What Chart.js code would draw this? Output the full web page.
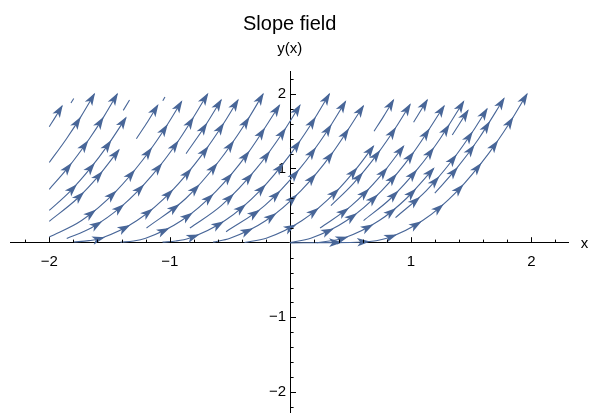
<!DOCTYPE html>
<html>
<head>
<meta charset="utf-8">
<script src="https://cdn.jsdelivr.net/npm/chart.js@4.4.1/dist/chart.umd.min.js"></script>
<style>
  html, body { margin: 0; padding: 0; background: #ffffff; }
  #wrap { width: 589px; height: 413px; }
</style>
</head>
<body>
<div id="wrap"><canvas id="c" width="589" height="413"></canvas></div>
<script>
// ---- data ----
const chartTitle = 'Slope field';
const yAxisLabel = 'y(x)';
const xAxisLabel = 'x';
const xMajorTicks = [-2, -1, 0, 1, 2];
const yMajorTicks = [-2, -1, 0, 1, 2];
const xMinorTicks = [-2.2, -2.0, -1.8, -1.6, -1.4, -1.2, -1.0, -0.8, -0.6, -0.4, -0.2,
                     0.2, 0.4, 0.6, 0.8, 1.0, 1.2, 1.4, 1.6, 1.8, 2.0, 2.2];
const yMinorTicks = [-2.2, -2.0, -1.8, -1.6, -1.4, -1.2, -1.0, -0.8, -0.6, -0.4, -0.2,
                     0.2, 0.4, 0.6, 0.8, 1.0, 1.2, 1.4, 1.6, 1.8, 2.0, 2.2];

// stream lines, each a list of [x, y] points
const streamlines = [
  [[-2.0,1.56],[-1.946,1.7],[-1.894,1.84]],
  [[-1.82,1.88],[-1.797,1.94]],
  [[-2.0,1.08],[-1.857,1.4],[-1.736,1.7],[-1.626,2.0]],
  [[-2.0,0.72],[-1.85,1.0],[-1.667,1.4],[-1.546,1.7],[-1.436,2.0]],
  [[-1.386,1.78],[-1.334,1.92]],
  [[-2.0,0.436],[-1.823,0.7],[-1.66,1.0],[-1.52,1.3],[-1.364,1.68]],
  [[-2.0,0.29],[-1.765,0.6],[-1.591,0.9],[-1.422,1.25]],
  [[-1.277,1.4],[-1.195,1.6],[-1.10,1.85]],
  [[-1.058,1.91],[-1.04,1.96]],
  [[-2.0,0.078],[-1.732,0.3],[-1.443,0.7],[-1.231,1.1],[-1.055,1.5],[-0.902,1.9]],
  [[-1.855,0.06],[-1.653,0.2],[-1.393,0.5],[-1.151,0.9],[-0.917,1.4],[-0.686,2.0]],
  [[-0.865,1.2],[-0.715,1.55],[-0.574,1.92]],
  [[-1.80,0.012],[-1.67,0.03],[-1.57,0.0625],[-1.272,0.3],[-0.983,0.7],[-0.725,1.2],[-0.555,1.6],[-0.434,1.92]],
  [[-1.193,0.2],[-0.865,0.6],[-0.591,1.1],[-0.375,1.6],[-0.226,2.0]],
  [[-1.41,0.01],[-1.3,0.025],[-1.2,0.0625],[-0.902,0.3],[-0.613,0.7],[-0.355,1.2],[-0.09,1.85]],
  [[-0.833,0.2],[-0.573,0.5],[-0.28,1.0],[-0.055,1.5],[0.08,1.85]],
  [[-1.06,0.01],[-0.95,0.025],[-0.84,0.0625],[-0.542,0.3],[-0.253,0.7],[0.005,1.2],[0.175,1.6],[0.324,2.0]],
  [[-0.533,0.15],[-0.213,0.5],[0.08,1.0],[0.305,1.5],[0.458,1.9]],
  [[-0.64,0.01],[-0.5,0.0625],[-0.202,0.3],[0.087,0.7],[0.345,1.2],[0.606,1.84]],
  [[-0.38,0.006],[-0.2,0.0625],[0.098,0.3],[0.387,0.7],[0.55,1.0],[0.69,1.3]],
  [[0.695,1.5],[0.774,1.7],[0.856,1.92]],
  [[0.337,0.5],[0.524,0.8],[0.725,1.2],[0.875,1.55],[0.994,1.86]],
  [[0.247,0.2],[0.507,0.5],[0.749,0.9],[0.94,1.3]],
  [[1.023,1.62],[1.136,1.92]],
  [[0.0,0.005],[0.17,0.0625],[0.468,0.3],[0.757,0.7],[1.015,1.2],[1.276,1.84]],
  [[0.608,0.3],[0.835,0.6],[1.06,1.0],[1.243,1.4],[1.438,1.9]],
  [[0.22,0.002],[0.44,0.0625],[0.738,0.3],[0.965,0.6],[1.19,1.0]],
  [[1.344,1.45],[1.474,1.78]],
  [[0.873,0.34],[1.127,0.7],[1.339,1.1],[1.515,1.5],[1.632,1.8]],
  [[1.199,0.67],[1.38,1.0],[1.563,1.4],[1.773,1.94]],
  [[0.0,0.0],[0.3,0.003],[0.6,0.012],[0.8,0.0625],[1.098,0.3],[1.387,0.7],[1.645,1.2],[1.815,1.6],[1.964,2.0]]
];

// ---- styling ----
const STREAM_COLOR = 'rgb(72,102,152)';
const FONT = "'Liberation Sans', Arial, sans-serif";

const datasets = streamlines.map((pts) => ({
  data: pts.map(([x, y]) => ({ x, y })),
  borderColor: STREAM_COLOR,
  borderWidth: 1.1,
  pointRadius: 0,
  pointHoverRadius: 0,
  fill: false,
  cubicInterpolationMode: 'monotone',
  showLine: true
}));

function drawArrowHead(ctx, x, y, ang) {
  ctx.save();
  ctx.translate(x, y);
  ctx.rotate(ang);
  ctx.beginPath();
  ctx.moveTo(6.5, 0);
  ctx.lineTo(-6.5, -4.3);
  ctx.lineTo(-3.2, 0);
  ctx.lineTo(-6.5, 4.3);
  ctx.closePath();
  ctx.fill();
  ctx.restore();
}

function bez(p0, c1, c2, p1, t) {
  const u = 1 - t;
  return {
    x: u*u*u*p0.x + 3*u*u*t*c1.x + 3*u*t*t*c2.x + t*t*t*p1.x,
    y: u*u*u*p0.y + 3*u*u*t*c1.y + 3*u*t*t*c2.y + t*t*t*p1.y
  };
}

const arrowPlugin = {
  id: 'streamArrows',
  afterDatasetsDraw(chart) {
    const ctx = chart.ctx;
    ctx.save();
    ctx.fillStyle = STREAM_COLOR;
    chart.data.datasets.forEach((ds, i) => {
      const els = chart.getDatasetMeta(i).data;
      if (els.length < 2) return;
      const poly = [{ x: els[0].x, y: els[0].y }];
      for (let j = 0; j < els.length - 1; j++) {
        const a = els[j], b = els[j + 1];
        const hasCp = a.cp2x !== undefined && b.cp1x !== undefined;
        const c1 = hasCp ? { x: a.cp2x, y: a.cp2y } : a;
        const c2 = hasCp ? { x: b.cp1x, y: b.cp1y } : b;
        for (let k = 1; k <= 20; k++) poly.push(bez(a, c1, c2, b, k / 20));
      }
      const cum = [0];
      for (let j = 1; j < poly.length; j++) {
        cum.push(cum[j - 1] + Math.hypot(poly[j].x - poly[j - 1].x, poly[j].y - poly[j - 1].y));
      }
      const L = cum[cum.length - 1];
      if (L < 14) return;
      for (let s = L - 5; s >= Math.min(22, L - 5); s -= 28) {
        let j = 1;
        while (j < cum.length - 1 && cum[j] < s) j++;
        const seg = cum[j] - cum[j - 1] || 1;
        const t = (s - cum[j - 1]) / seg;
        const x = poly[j - 1].x + t * (poly[j].x - poly[j - 1].x);
        const y = poly[j - 1].y + t * (poly[j].y - poly[j - 1].y);
        const ang = Math.atan2(poly[j].y - poly[j - 1].y, poly[j].x - poly[j - 1].x);
        drawArrowHead(ctx, x, y, ang);
      }
    });
    ctx.restore();
  }
};

const axisPlugin = {
  id: 'axisDecor',
  afterDraw(chart) {
    const ctx = chart.ctx;
    const xs = chart.scales.x, ys = chart.scales.y;
    const x0 = xs.getPixelForValue(0), y0 = ys.getPixelForValue(0);
    ctx.save();
    ctx.strokeStyle = '#000';
    ctx.lineWidth = 1;
    ctx.beginPath();
    xMinorTicks.forEach(v => {
      const px = Math.round(xs.getPixelForValue(v)) + 0.5;
      const len = Math.abs(v - Math.round(v)) < 1e-9 ? 5.7 : 3.3;
      ctx.moveTo(px, y0);
      ctx.lineTo(px, y0 - len);
    });
    yMinorTicks.forEach(v => {
      const py = Math.round(ys.getPixelForValue(v)) + 0.5;
      const len = Math.abs(v - Math.round(v)) < 1e-9 ? 5.7 : 3.3;
      ctx.moveTo(x0, py);
      ctx.lineTo(x0 + len, py);
    });
    ctx.stroke();
    ctx.fillStyle = '#000';
    ctx.font = '15px ' + FONT;
    ctx.textAlign = 'left';
    ctx.textBaseline = 'middle';
    ctx.fillText(xAxisLabel, xs.right + 12, y0 + 1);
    ctx.restore();
  }
};

const fmt = v => (v < 0 ? '\u2212' + Math.abs(v) : String(v));

new Chart(document.getElementById('c'), {
  type: 'scatter',
  data: { datasets },
  options: {
    responsive: false,
    animation: false,
    devicePixelRatio: 1,
    events: [],
    layout: { padding: { left: 10.7, right: 20.3, top: 0, bottom: 0.4 } },
    plugins: {
      legend: { display: false },
      tooltip: { enabled: false },
      title: {
        display: true, text: chartTitle, color: '#000',
        font: { size: 20, family: FONT, weight: 'normal' },
        padding: { top: 12, bottom: 0 }
      },
      subtitle: {
        display: true, text: yAxisLabel, color: '#000',
        font: { size: 15, family: FONT, weight: 'normal' },
        padding: { top: 4, bottom: 13.7 }
      }
    },
    scales: {
      x: {
        type: 'linear', min: -2.32, max: 2.31,
        position: { y: 0 },
        grid: { display: false },
        border: { display: true, color: '#000', width: 1 },
        afterFit: s => { s.height = 0; s.paddingLeft = 0; s.paddingRight = 0; s.paddingTop = 0; s.paddingBottom = 0; },
        afterBuildTicks: s => { s.ticks = xMajorTicks.map(v => ({ value: v })); },
        ticks: {
          autoSkip: false, maxRotation: 0, padding: 2, color: '#000',
          font: { size: 15, family: FONT },
          callback: v => (v === 0 ? '' : fmt(v))
        }
      },
      y: {
        type: 'linear', min: -2.28, max: 2.30,
        position: { x: 0 },
        grid: { display: false },
        border: { display: true, color: '#000', width: 1 },
        afterFit: s => { s.width = 0; s.paddingLeft = 0; s.paddingRight = 0; s.paddingTop = 0; s.paddingBottom = 0; },
        afterBuildTicks: s => { s.ticks = yMajorTicks.map(v => ({ value: v })); },
        ticks: {
          autoSkip: false, padding: 8, color: '#000',
          font: { size: 15, family: FONT },
          callback: v => (v === 0 ? '' : fmt(v) + ' ')
        }
      }
    }
  },
  plugins: [arrowPlugin, axisPlugin]
});
</script>
</body>
</html>
